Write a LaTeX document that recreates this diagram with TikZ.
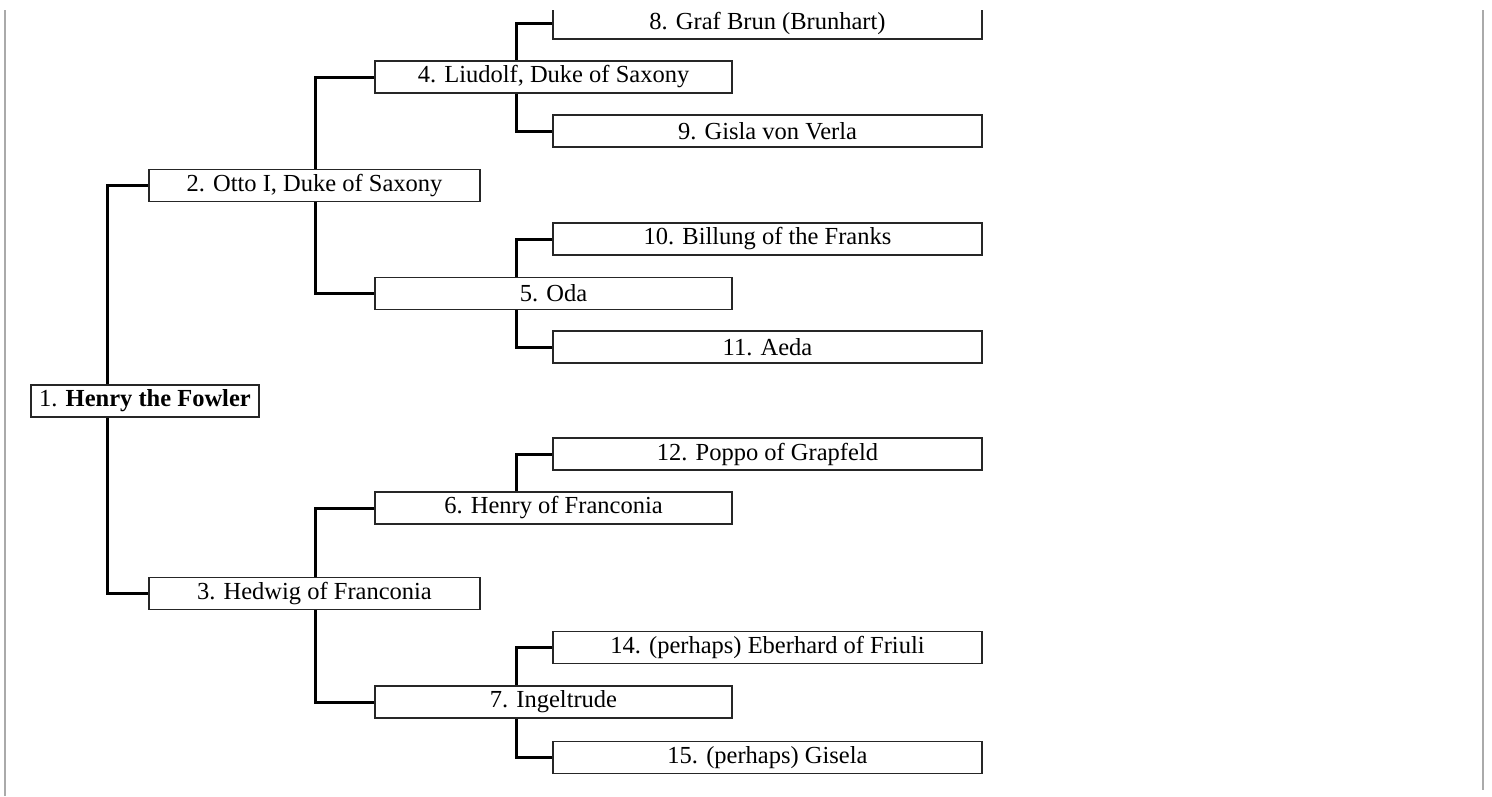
\documentclass[tikz,border=0pt]{standalone}
\usepackage{fontspec}
\setmainfont{Liberation Serif}
\begin{document}
\begin{tikzpicture}[x=1pt,y=-1pt,
  pbox/.style={draw=black!85, line width=1.4pt, fill=white, inner sep=0pt,
    minimum height=32pt, anchor=center, font=\fontsize{24.5}{28}\selectfont},
  g1/.style={pbox, minimum width=228pt},
  g2/.style={pbox, minimum width=331pt},
  g3/.style={pbox, minimum width=357pt},
  g4/.style={pbox, minimum width=429pt},
  conn/.style={draw=black, line width=3pt},
  rule/.style={draw={rgb,255:red,170;green,170;blue,170}, line width=2.5pt}]
\useasboundingbox (0,0) rectangle (1492,796);
\coordinate (c1) at (107,0);
\coordinate (c2) at (315,0);
\coordinate (c3) at (516,0);
\coordinate (la) at (5,10);
\coordinate (lb) at (5,796);
\coordinate (ra) at (1483,10);
\coordinate (rb) at (1483,790);
\draw[rule] (la) -- (lb);
\draw[rule] (ra) -- (rb);
\begin{scope}
\clip (0,10) rectangle (1492,796);
% nodes (placed first, drawn again on top later via background trick)
\path
  (145,401)    node[g1,draw=none,fill=none] (b1) {}
  (314.5,185.5) node[g2,draw=none,fill=none] (b2) {}
  (314.5,593.5) node[g2,draw=none,fill=none] (b3) {}
  (553.5,77)   node[g3,draw=none,fill=none] (b4) {}
  (553.5,293.5) node[g3,draw=none,fill=none] (b5) {}
  (553.5,508)  node[g3,draw=none,fill=none] (b6) {}
  (553.5,702)  node[g3,draw=none,fill=none] (b7) {}
  (767.5,23)   node[g4,draw=none,fill=none] (b8) {}
  (767.5,131)  node[g4,draw=none,fill=none] (b9) {}
  (767.5,239)  node[g4,draw=none,fill=none] (b10) {}
  (767.5,347)  node[g4,draw=none,fill=none] (b11) {}
  (767.5,454)  node[g4,draw=none,fill=none] (b12) {}
  (767.5,647.5) node[g4,draw=none,fill=none] (b14) {}
  (767.5,757.5) node[g4,draw=none,fill=none] (b15) {};
% connectors
\draw[conn] (b2.west) -| (c1 |- b1.center) |- (b3.west);
\draw[conn] (b4.west) -| (c2 |- b2.center) |- (b5.west);
\draw[conn] (b6.west) -| (c2 |- b3.center) |- (b7.west);
\draw[conn] (b8.west) -| (c3 |- b4.center) |- (b9.west);
\draw[conn] (b10.west) -| (c3 |- b5.center) |- (b11.west);
\draw[conn] (b12.west) -| (c3 |- b6.north);
\draw[conn] (b14.west) -| (c3 |- b7.center) |- (b15.west);
% boxes
\node[g1] at (b1) {1. \textbf{Henry the Fowler}};
\node[g2] at (b2) {2. Otto I, Duke of Saxony};
\node[g2] at (b3) {3. Hedwig of Franconia};
\node[g3] at (b4) {4. Liudolf, Duke of Saxony};
\node[g3] at (b5) {5. Oda};
\node[g3] at (b6) {6. Henry of Franconia};
\node[g3] at (b7) {7. Ingeltrude};
\node[g4] at (b8) {8. Graf Brun (Brunhart)};
\node[g4] at (b9) {9. Gisla von Verla};
\node[g4] at (b10) {10. Billung of the Franks};
\node[g4] at (b11) {11. Aeda};
\node[g4] at (b12) {12. Poppo of Grapfeld};
\node[g4] at (b14) {14. (perhaps) Eberhard of Friuli};
\node[g4] at (b15) {15. (perhaps) Gisela};
\end{scope}
\end{tikzpicture}
\end{document}
